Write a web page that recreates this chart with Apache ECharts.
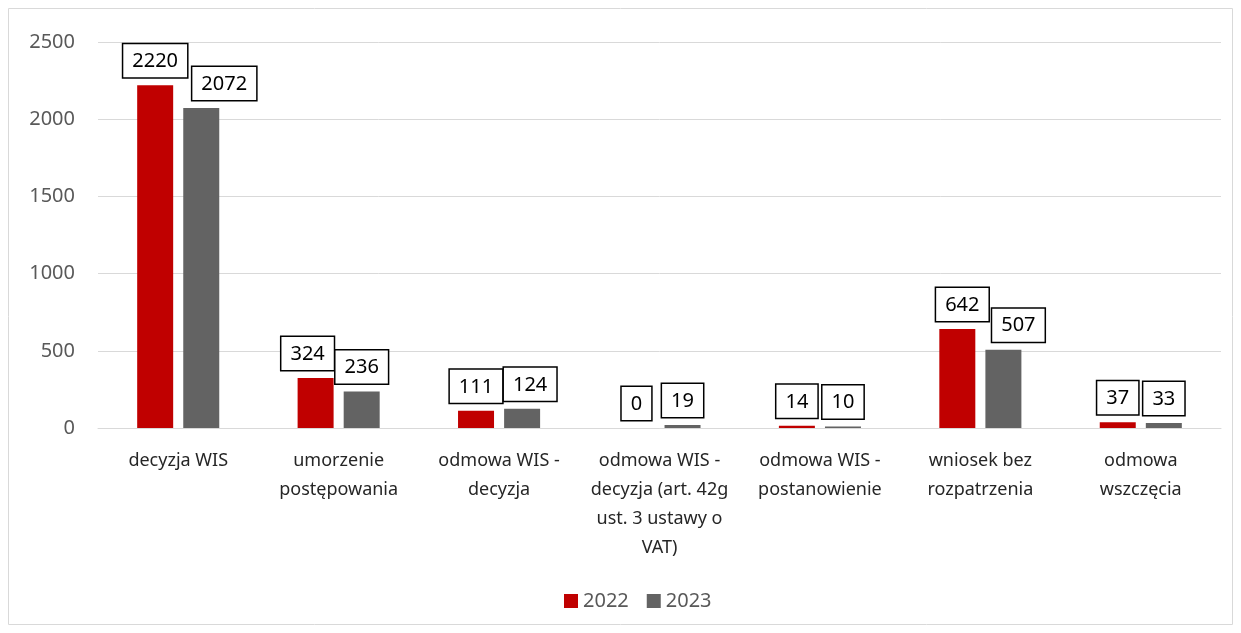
<!DOCTYPE html>
<html lang="pl">
<head>
  <meta charset="UTF-8">
  <title>WIS 2022 / 2023</title>
  <style>
    html, body { margin: 0; padding: 0; background: #fff; }
    #main { width: 1241px; height: 633px; }
  </style>
</head>
<body>
  <div id="main"></div>
  <script src="https://cdn.jsdelivr.net/npm/echarts@6/dist/echarts.min.js"></script>
  <script>
    // dane z wykresu
    const categories = [
      'decyzja WIS',
      'umorzenie\npostępowania',
      'odmowa WIS -\ndecyzja',
      'odmowa WIS -\ndecyzja (art. 42g\nust. 3 ustawy o\nVAT)',
      'odmowa WIS -\npostanowienie',
      'wniosek bez\nrozpatrzenia',
      'odmowa\nwszczęcia'
    ]
    const values2022 = [2220, 324, 111, 0, 14, 642, 37]
    const values2023 = [2072, 236, 124, 19, 10, 507, 33]
    const yTicks = [0, 500, 1000, 1500, 2000, 2500]

    // przesunięcia etykiet w poziomie (px), jak w oryginale
    const shift2022 = [0, -8, 0, 0, 0, 5, 0]
    const shift2023 = [23, 0, 8, 0, 0, 15, 0]

    const font = 'Noto Sans, sans-serif'

    const labelStyle = {
      show: true,
      position: 'top',
      distance: 8,
      color: '#000',
      fontFamily: font,
      fontSize: 20,
      lineHeight: 22,
      backgroundColor: '#fff',
      borderColor: '#000',
      borderWidth: 1.5,
      padding: [6, 9, 5, 9]
    }

    function withShift(values, shifts) {
      return values.map((v, i) => ({
        value: v,
        label: { offset: [shifts[i], 0] }
      }))
    }

    const myChart = echarts.init(document.getElementById('main'))

    const option = {
      animation: false,
      textStyle: { fontFamily: font },
      graphic: [{
        type: 'rect',
        shape: { x: 8.5, y: 8.5, width: 1224, height: 616 },
        style: { fill: 'none', stroke: '#d9d9d9', lineWidth: 1 },
        silent: true
      }],
      grid: { left: 98, right: 20, top: 42, bottom: 205 },
      legend: {
        bottom: 17,
        left: 559,
        itemWidth: 14,
        itemHeight: 14,
        itemGap: 18,
        icon: 'rect',
        textStyle: { color: '#595959', fontSize: 20, fontFamily: font }
      },
      xAxis: {
        type: 'category',
        data: categories,
        axisTick: { show: false },
        axisLine: { lineStyle: { color: '#d9d9d9' } },
        axisLabel: {
          color: '#262626',
          fontSize: 18,
          lineHeight: 29,
          margin: 18,
          interval: 0,
          fontFamily: font
        }
      },
      yAxis: {
        type: 'value',
        min: 0,
        max: yTicks[yTicks.length - 1],
        interval: 500,
        axisLabel: {
          color: '#595959',
          fontSize: 20,
          margin: 23,
          fontFamily: font,
          formatter: v => String(v)
        },
        splitLine: { lineStyle: { color: '#d9d9d9' } }
      },
      series: [
        {
          name: '2022',
          type: 'bar',
          data: withShift(values2022, shift2022),
          itemStyle: { color: '#c00000' },
          barWidth: 36,
          barGap: '28%',
          label: labelStyle
        },
        {
          name: '2023',
          type: 'bar',
          data: withShift(values2023, shift2023),
          itemStyle: { color: '#636363' },
          barWidth: 36,
          label: labelStyle
        }
      ]
    }

    myChart.setOption(option)
  </script>
</body>
</html>
